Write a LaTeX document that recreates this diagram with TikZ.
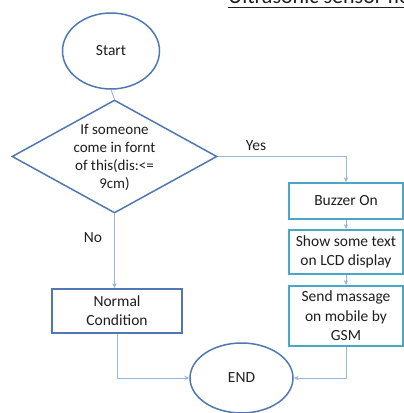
\documentclass[tikz,border=0pt]{standalone}
\usepackage{fontspec}
\setmainfont{Carlito}
\usetikzlibrary{shapes.geometric,arrows.meta}
\definecolor{shapeblue}{RGB}{79,120,178}
\definecolor{tealbox}{RGB}{75,168,196}
\definecolor{connblue}{RGB}{150,182,220}
\definecolor{txt}{RGB}{30,30,30}
\tikzset{
  ovalnode/.style={ellipse, draw=shapeblue, line width=1.5pt, inner sep=0pt, text=txt, font=\fontsize{15.5}{18}\selectfont},
  decnode/.style={diamond, draw=shapeblue, line width=1.5pt, inner sep=0pt},
  bluebox/.style={rectangle, draw=shapeblue, line width=1.8pt, inner sep=0pt, align=center, text=txt, font=\fontsize{15.5}{19}\selectfont},
  tealnode/.style={rectangle, draw=tealbox, line width=1.8pt, inner sep=0pt, align=center, text=txt, font=\fontsize{15.5}{19.5}\selectfont, minimum width=114pt},
  conn/.style={draw=connblue, line width=0.9pt},
  arr/.style={conn, -{Stealth[length=5pt,width=4.5pt]}},
  lbl/.style={text=txt, font=\fontsize{15.5}{18}\selectfont}
}
\begin{document}
\begin{tikzpicture}[x=1pt,y=-1pt]
\useasboundingbox (0,0) rectangle (404,413);
\clip (0,0) rectangle (404,413);
% title (cut off at the top of the picture)
\node[anchor=base west, inner sep=0pt, text=txt, font=\fontsize{22}{26}\selectfont] (title) at (228,3.5) {Ultrasonic sensor flow chart};
\draw[txt, line width=1pt] (title.base west |- 0,7.5) -- (404,7.5);
% nodes
\node[ovalnode, minimum width=97pt, minimum height=76pt] (start) at (111,51) {Start};
\node[decnode, minimum width=205pt, minimum height=113pt] (dec) at (114.5,156.5) {};
\node[lbl, align=center, font=\fontsize{15}{18}\selectfont] (dectext) at (114.5,157) {If someone\\come in fornt\\of this(dis:<=\\9cm)};
\node[tealnode, minimum height=36pt] (buz) at (346,201) {Buzzer On};
\node[tealnode, minimum height=44pt] (show) at (346,252) {Show some text\\on LCD display};
\node[tealnode, minimum height=60pt] (send) at (346,316) {Send massage\\on mobile by\\GSM};
\node[bluebox, minimum width=130pt, minimum height=44pt] (normal) at (117,311) {Normal\\Condition};
\node[ovalnode, minimum width=103pt, minimum height=70pt] (end) at (241.5,378) {END};
% connectors
\draw[conn] (start.south) -- (dec.north);
\draw[arr] (dec.east) -| (buz.north);
\node[lbl] (yes) at (256,146) {Yes};
\draw[arr] (buz.south) -- (show.north);
\draw[arr] (show.south) -- (send.north);
\draw[arr] (dec.south) -- (dec.south |- normal.north);
\node[lbl] (no) at (93,238) {No};
\draw[arr] (normal.south) |- (end.west);
\draw[arr] (send.south) |- (end.east);
\end{tikzpicture}
\end{document}
